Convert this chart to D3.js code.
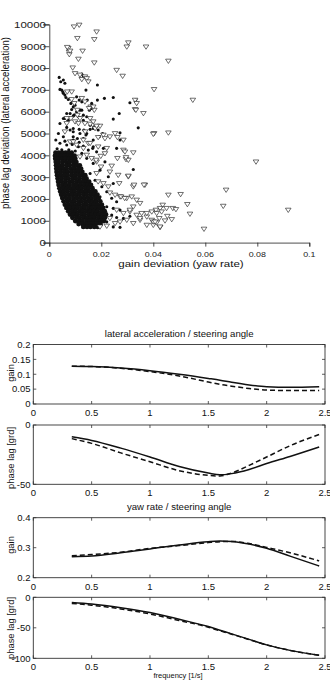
<!DOCTYPE html>
<html>
<head>
<meta charset="utf-8">
<script src="https://cdn.jsdelivr.net/npm/d3@7"></script>
<style>
  body { margin: 0; background: #fff; }
  svg { display: block; font-family: "Liberation Sans", Arial, Helvetica, sans-serif; }
</style>
</head>
<body>
<script>
// ---- scatter: gain deviation (yaw rate) vs phase lag deviation (lateral acceleration)
const scatterXTicks = [0, 0.02, 0.04, 0.06, 0.08, 0.1];
const scatterXLabels = ["0", "0.02", "0.04", "0.06", "0.08", "0.1"];
const scatterYTicks = [0, 1000, 2000, 3000, 4000, 5000, 6000, 7000, 8000, 9000, 10000];

// dense black cloud, read row by row: [phase lag deviation, [gain deviations]]
const cloudRows = [
  [4120, [.0024, .0036, .0049, .0062, .0073, .0086]],
  [3980, [.0022, .0035, .0046, .0060, .0073, .0084, .0097]],
  [3840, [.0023, .0037, .0049, .0061, .0076, .0088, .0100]],
  [3690, [.0025, .0036, .0051, .0065, .0077, .0092, .0104]],
  [3540, [.0026, .0040, .0052, .0068, .0079, .0095, .0107, .0117]],
  [3390, [.0027, .0041, .0054, .0067, .0083, .0096, .0111, .0122]],
  [3240, [.0028, .0042, .0057, .0070, .0084, .0099, .0112, .0127]],
  [3090, [.0030, .0045, .0058, .0071, .0087, .0100, .0115, .0128, .0138]],
  [2940, [.0032, .0046, .0061, .0074, .0089, .0102, .0116, .0131, .0143]],
  [2790, [.0034, .0048, .0062, .0077, .0090, .0105, .0118, .0133, .0146, .0153]],
  [2640, [.0036, .0051, .0064, .0078, .0093, .0106, .0121, .0134, .0148, .0160]],
  [2490, [.0039, .0053, .0068, .0081, .0095, .0110, .0123, .0138, .0151, .0166]],
  [2340, [.0042, .0056, .0070, .0085, .0098, .0113, .0126, .0141, .0154, .0168, .0177]],
  [2190, [.0046, .0060, .0075, .0088, .0103, .0116, .0131, .0144, .0159, .0172, .0185]],
  [2040, [.0050, .0065, .0078, .0093, .0106, .0121, .0134, .0149, .0162, .0177, .0190]],
  [1890, [.0055, .0069, .0084, .0097, .0112, .0125, .0140, .0153, .0168, .0181, .0196]],
  [1740, [.0060, .0075, .0088, .0103, .0116, .0131, .0144, .0159, .0172, .0187, .0202]],
  [1590, [.0066, .0080, .0095, .0108, .0123, .0136, .0151, .0164, .0179, .0192, .0207]],
  [1440, [.0073, .0088, .0101, .0116, .0129, .0144, .0157, .0172, .0185, .0200, .0213]],
  [1290, [.0080, .0095, .0108, .0123, .0136, .0151, .0164, .0179, .0192, .0207, .0218]],
  [1140, [.0089, .0104, .0117, .0132, .0145, .0160, .0173, .0188, .0201, .0214]],
  [990,  [.0100, .0115, .0128, .0143, .0156, .0171, .0184, .0198, .0210]],
  [850,  [.0113, .0128, .0141, .0156, .0169, .0184, .0197]],
  [720,  [.0131, .0145, .0158, .0173, .0186]]
];

// scattered filled points around the cloud
const dotPoints = [
  [0.0038, 7570], [0.0054, 7450], [0.0060, 7300], [0.0044, 7370], [0.0125, 7720], [0.0131, 7630],
  [0.0185, 7220], [0.0141, 6990], [0.0048, 6990], [0.0054, 6840], [0.0064, 6650], [0.0105, 6680],
  [0.0115, 6530], [0.0125, 6450], [0.0146, 6530], [0.0163, 6380], [0.0185, 6530], [0.0212, 6610],
  [0.0246, 6650], [0.0083, 6380], [0.0099, 6300], [0.0154, 6070], [0.0164, 6150], [0.0092, 6220],
  [0.0118, 6070], [0.0333, 6560], [0.0310, 6410], [0.0269, 5920], [0.0067, 5920], [0.0060, 5690],
  [0.0041, 5460], [0.0080, 5920], [0.0095, 5840], [0.0131, 5840], [0.0144, 5770], [0.0080, 5160],
  [0.0092, 5230], [0.0115, 5190], [0.0133, 5160], [0.0157, 5190], [0.0172, 5310], [0.0192, 4850],
  [0.0118, 5000], [0.0141, 4930], [0.0342, 5260], [0.0246, 5660], [0.0272, 5030], [0.0208, 4320],
  [0.0167, 4320], [0.0131, 4420], [0.0108, 4770], [0.0092, 4850], [0.0067, 5280], [0.0041, 7020],
  [0.0052, 6910], [0.0060, 6760], [0.0073, 6560], [0.0086, 6100], [0.0105, 6000], [0.0125, 6070],
  [0.0054, 5690], [0.0073, 5610], [0.0092, 5800], [0.0115, 5740], [0.0131, 5610], [0.0157, 5380],
  [0.0169, 5230], [0.0188, 5160], [0.0205, 5000], [0.0169, 4700], [0.0144, 5000], [0.0092, 5080],
  [0.0035, 5000], [0.0054, 4850], [0.0041, 4550], [0.0067, 4470], [0.0092, 4700], [0.0112, 4390],
  [0.0131, 4770], [0.0150, 4240], [0.0169, 4390], [0.0182, 4160], [0.0125, 4090], [0.0144, 3860],
  [0.0169, 3630], [0.0195, 3320], [0.0214, 3700], [0.0227, 3020], [0.0246, 2710], [0.0259, 4320],
  [0.0272, 4700], [0.0323, 3350], [0.0157, 3170], [0.0176, 2860], [0.0202, 2560], [0.0221, 2330],
  [0.0240, 2030], [0.0259, 1870], [0.0195, 2100], [0.0221, 1640], [0.0246, 1570], [0.0272, 1490],
  [0.0240, 1260], [0.0259, 1150], [0.0285, 1110], [0.0310, 1210], [0.0202, 1030], [0.0221, 950],
  [0.0246, 720], [0.0272, 700], [0.0030, 4300], [0.0048, 4250], [0.0075, 4250], [0.0100, 4200],
  [0.0088, 4500], [0.0115, 4600], [0.0060, 4650], [0.0025, 4700]
];

// open inverted triangles
const triPoints = [
  [0.0095, 9890], [0.0115, 9970], [0.0182, 9660], [0.0108, 9360], [0.0173, 9310], [0.0073, 8900],
  [0.0076, 8730], [0.0077, 8620], [0.0128, 8780], [0.0112, 8410], [0.0173, 8240], [0.0090, 8010],
  [0.0099, 7750], [0.0118, 7680], [0.0125, 7480], [0.0137, 7600], [0.0144, 7520], [0.0150, 7370],
  [0.0259, 7900], [0.0282, 7630], [0.0304, 9160], [0.0298, 8970], [0.0372, 8970], [0.0458, 8320],
  [0.0403, 7020], [0.0086, 6910], [0.0086, 6560], [0.0108, 6070], [0.0159, 6220], [0.0173, 6070],
  [0.0330, 6530], [0.0336, 6380], [0.0330, 6100], [0.0362, 5920], [0.0067, 5460], [0.0083, 5690],
  [0.0099, 5540], [0.0118, 5690], [0.0137, 5460], [0.0157, 5430], [0.0176, 5230], [0.0195, 5340],
  [0.0208, 4930], [0.0233, 4850], [0.0253, 5000], [0.0262, 4820], [0.0403, 5000], [0.0458, 5030],
  [0.0552, 6530], [0.0795, 3700], [0.0680, 2410], [0.0458, 2180], [0.0505, 2210], [0.0531, 1750],
  [0.0669, 1670], [0.0919, 1490], [0.0541, 1310], [0.0595, 620], [0.0475, 1570], [0.0487, 1520],
  [0.0436, 1720], [0.0426, 1570], [0.0410, 1490], [0.0454, 1210], [0.0471, 1060], [0.0445, 1000],
  [0.0423, 1110], [0.0413, 910], [0.0426, 700], [0.0400, 800], [0.0394, 1030],
  [0.0138, 5080], [0.0188, 4390], [0.0221, 4320], [0.0285, 4240], [0.0291, 4160], [0.0323, 4120],
  [0.0163, 3860], [0.0182, 3700], [0.0295, 3810], [0.0304, 3780], [0.0199, 3470], [0.0182, 3170],
  [0.0233, 3240], [0.0265, 3090], [0.0304, 3020], [0.0323, 2560], [0.0368, 2640], [0.0080, 4620],
  [0.0105, 4470], [0.0131, 4320], [0.0150, 4550], [0.0188, 2790], [0.0208, 2710], [0.0227, 2560],
  [0.0253, 2180], [0.0272, 2100], [0.0298, 2030], [0.0317, 2100], [0.0336, 1950], [0.0349, 1800],
  [0.0323, 1640], [0.0259, 1490], [0.0285, 1340], [0.0310, 1410], [0.0336, 1260], [0.0355, 1340],
  [0.0375, 1180], [0.0394, 1410], [0.0413, 1340], [0.0432, 1410], [0.0451, 1570], [0.0233, 1110],
  [0.0253, 880], [0.0272, 950], [0.0298, 1030], [0.0323, 880], [0.0349, 1030], [0.0375, 800],
  [0.0400, 950], [0.0426, 720], [0.0195, 720], [0.0221, 760],
  [0.0240, 3510], [0.0269, 2710], [0.0304, 3050], [0.0326, 2640], [0.0364, 2640], [0.0233, 2280],
  [0.0276, 2100], [0.0290, 2030], [0.0310, 1490], [0.0375, 1340], [0.0349, 1110], [0.0407, 950],
  [0.0180, 3780], [0.0198, 3960], [0.0214, 4080], [0.0262, 3860], [0.0295, 3900], [0.0118, 3930],
  [0.0144, 4010], [0.0069, 8950], [0.0080, 8780], [0.0069, 6910], [0.0096, 6380], [0.0125, 6610],
  [0.0137, 6450], [0.0153, 6150], [0.0169, 6220], [0.0333, 6070], [0.0400, 4970], [0.0067, 5690],
  [0.0112, 5460], [0.0108, 5840], [0.0157, 5690], [0.0169, 5540], [0.0182, 5340], [0.0060, 5080],
  [0.0092, 4620], [0.0131, 4700], [0.0157, 4550], [0.0188, 4820], [0.0214, 4770], [0.0285, 4700]
];

// ---- frequency responses
const freq = [0.33, 0.5, 0.75, 1.0, 1.25, 1.5, 1.6, 1.7, 1.85, 2.0, 2.2, 2.45];
const freqTicks = [0, 0.5, 1, 1.5, 2, 2.5];
const latGainSolid  = [0.127, 0.126, 0.121, 0.112, 0.100, 0.086, 0.080, 0.073, 0.064, 0.058, 0.056, 0.058];
const latGainDashed = [0.127, 0.126, 0.120, 0.109, 0.094, 0.074, 0.066, 0.060, 0.052, 0.047, 0.045, 0.045];
const latPhaseSolid  = [-10, -13, -19.5, -27, -35, -40.5, -42, -41, -37.5, -32.5, -26.5, -18.5];
const latPhaseDashed = [-11.5, -15.5, -23.5, -31, -38.5, -42.5, -43, -40.5, -34, -27, -17.5, -8];
const yawGainSolid  = [0.270, 0.272, 0.283, 0.296, 0.309, 0.320, 0.322, 0.321, 0.312, 0.298, 0.272, 0.239];
const yawGainDashed = [0.273, 0.277, 0.285, 0.298, 0.307, 0.317, 0.320, 0.321, 0.314, 0.301, 0.283, 0.256];
const yawPhaseSolid  = [-8.5, -11, -17, -25, -36, -48, -54, -60, -69, -78, -87, -95];
const yawPhaseDashed = [-10, -13, -19, -27.3, -38, -49, -55, -60.5, -69.5, -78, -87, -95];

const width = 330, height = 687;

const svg = d3.select('body').append('svg')
  .attr('width', width)
  .attr('height', height);

// ================= scatter =================
const sx = d3.scaleLinear().domain([0, 0.1]).range([49.3, 309.3]);
const sy = d3.scaleLinear().domain([0, 10000]).range([242.6, 24.4]);
const sc = svg.append('g');

// axes (R style, ticks outside)
sc.append('g')
  .attr('transform', `translate(0,${sy(0)})`)
  .call(d3.axisBottom(sx).tickValues(scatterXTicks).tickSize(4).tickFormat(''))
  .call(g => g.select('.domain').attr('stroke', '#222').attr('stroke-width', 0.8))
  .call(g => g.selectAll('.tick line').attr('stroke', '#222').attr('stroke-width', 0.8));

sc.append('g')
  .attr('transform', `translate(${sx(0)},0)`)
  .call(d3.axisLeft(sy).tickValues(scatterYTicks).tickSize(6).tickFormat(''))
  .call(g => g.select('.domain').attr('stroke', '#222').attr('stroke-width', 0.8))
  .call(g => g.selectAll('.tick line').attr('stroke', '#222').attr('stroke-width', 0.8));

sc.selectAll('.ylab')
  .data(scatterYTicks)
  .enter().append('text')
  .attr('transform', d => `translate(46,${sy(d)}) scale(1.2,1)`)
  .attr('dy', '0.35em')
  .attr('text-anchor', 'end')
  .style('font-size', '9.6px')
  .style('fill', '#222')
  .text(d => d);

sc.selectAll('.xlab')
  .data(scatterXTicks)
  .enter().append('text')
  .attr('transform', d => `translate(${sx(d)},256.5) scale(1.2,1)`)
  .attr('text-anchor', 'middle')
  .style('font-size', '7.4px')
  .style('fill', '#222')
  .text((d, i) => scatterXLabels[i]);

sc.append('text')
  .attr('transform', 'translate(181,267) scale(1.2,1)')
  .attr('text-anchor', 'middle')
  .style('font-size', '9.6px')
  .style('fill', '#111')
  .text('gain deviation (yaw rate)');

sc.append('text')
  .attr('transform', 'translate(9,123) scale(1.15,1) rotate(-90)')
  .attr('text-anchor', 'middle')
  .style('font-size', '9.6px')
  .style('fill', '#111')
  .text('phase lag deviation (lateral acceleration)');

const cloudPoints = cloudRows.flatMap(r => r[1].map(x => [x, r[0]]));

sc.append('g').selectAll('circle')
  .data(cloudPoints)
  .enter().append('circle')
  .attr('cx', d => sx(d[0]))
  .attr('cy', d => sy(d[1]))
  .attr('r', 2.45)
  .attr('fill', '#111');

sc.append('g').selectAll('circle')
  .data(dotPoints)
  .enter().append('circle')
  .attr('cx', d => sx(d[0]))
  .attr('cy', d => sy(d[1]))
  .attr('r', 1.55)
  .attr('fill', '#111');

sc.append('g').selectAll('path')
  .data(triPoints)
  .enter().append('path')
  .attr('transform', d => `translate(${sx(d[0])},${sy(d[1])})`)
  .attr('d', 'M-2.8,-1.9L2.8,-1.9L0,2.4Z')
  .attr('fill', '#fff')
  .attr('stroke', '#222')
  .attr('stroke-width', 0.65);

// ================= frequency response panels =================
const fx = d3.scaleLinear().domain([0, 2.5]).range([33.3, 325]);

const panels = [
  {top: 344.5, bottom: 404, dom: [0, 0.2], ticks: [0, 0.05, 0.1, 0.15, 0.2],
   labels: ['0', '0.05', '0.1', '0.15', '0.2'], ylab: 'gain', ylabY: 373,
   title: 'lateral acceleration / steering angle', solid: latGainSolid, dashed: latGainDashed},
  {top: 425, bottom: 484.3, dom: [-50, 0], ticks: [-50, 0],
   labels: ['-50', '0'], ylab: 'phase lag [grd]', ylabY: 458,
   title: null, solid: latPhaseSolid, dashed: latPhaseDashed},
  {top: 517.7, bottom: 577.7, dom: [0.2, 0.4], ticks: [0.2, 0.3, 0.4],
   labels: ['0.2', '0.3', '0.4'], ylab: 'gain', ylabY: 545,
   title: 'yaw rate / steering angle', solid: yawGainSolid, dashed: yawGainDashed},
  {top: 597.3, bottom: 658.3, dom: [-100, 0], ticks: [-100, -50, 0],
   labels: ['-100', '-50', '0'], ylab: 'phase lag [grd]', ylabY: 628,
   title: null, solid: yawPhaseSolid, dashed: yawPhaseDashed}
];

panels.forEach(p => {
  const y = d3.scaleLinear().domain(p.dom).range([p.bottom, p.top]);
  const g = svg.append('g');

  g.append('rect')
    .attr('x', fx(0)).attr('y', p.top)
    .attr('width', fx(2.5) - fx(0)).attr('height', p.bottom - p.top)
    .attr('fill', 'none').attr('stroke', '#333').attr('stroke-width', 0.9);

  // inner ticks
  freqTicks.forEach(t => {
    g.append('line').attr('x1', fx(t)).attr('x2', fx(t)).attr('y1', p.bottom).attr('y2', p.bottom - 3)
      .attr('stroke', '#333').attr('stroke-width', 0.8);
    g.append('line').attr('x1', fx(t)).attr('x2', fx(t)).attr('y1', p.top).attr('y2', p.top + 3)
      .attr('stroke', '#333').attr('stroke-width', 0.8);
  });
  p.ticks.forEach(t => {
    g.append('line').attr('x1', fx(0)).attr('x2', fx(0) + 3).attr('y1', y(t)).attr('y2', y(t))
      .attr('stroke', '#333').attr('stroke-width', 0.8);
    g.append('line').attr('x1', fx(2.5)).attr('x2', fx(2.5) - 3).attr('y1', y(t)).attr('y2', y(t))
      .attr('stroke', '#333').attr('stroke-width', 0.8);
  });

  g.selectAll('.xt')
    .data(freqTicks)
    .enter().append('text')
    .attr('x', d => fx(d))
    .attr('y', p.bottom + 12)
    .attr('text-anchor', 'middle')
    .style('font-size', '9.5px')
    .style('fill', '#111')
    .text(d => d);

  g.selectAll('.yt')
    .data(p.ticks)
    .enter().append('text')
    .attr('x', 30.5)
    .attr('y', d => y(d))
    .attr('dy', '0.35em')
    .attr('text-anchor', 'end')
    .style('font-size', '9.5px')
    .style('fill', '#111')
    .text((d, i) => p.labels[i]);

  g.append('text')
    .attr('transform', `translate(14,${p.ylabY}) rotate(-90)`)
    .attr('text-anchor', 'middle')
    .style('font-size', '9.4px')
    .style('fill', '#111')
    .text(p.ylab);

  if (p.title) {
    g.append('text')
      .attr('x', (fx(0) + fx(2.5)) / 2)
      .attr('y', p.top - 8)
      .attr('text-anchor', 'middle')
      .style('font-size', '9.6px')
      .style('fill', '#111')
      .text(p.title);
  }

  const line = d3.line()
    .x((d, i) => fx(freq[i]))
    .y(d => y(d))
    .curve(d3.curveMonotoneX);

  g.append('path')
    .attr('d', line(p.solid))
    .attr('fill', 'none').attr('stroke', '#111').attr('stroke-width', 1.5);

  g.append('path')
    .attr('d', line(p.dashed))
    .attr('fill', 'none').attr('stroke', '#111').attr('stroke-width', 1.5)
    .attr('stroke-dasharray', '5,3');
});

svg.append('text')
  .attr('x', 178)
  .attr('y', 677.5)
  .attr('text-anchor', 'middle')
  .style('font-size', '7.5px')
  .style('fill', '#111')
  .text('frequency [1/s]');
</script>
</body>
</html>
